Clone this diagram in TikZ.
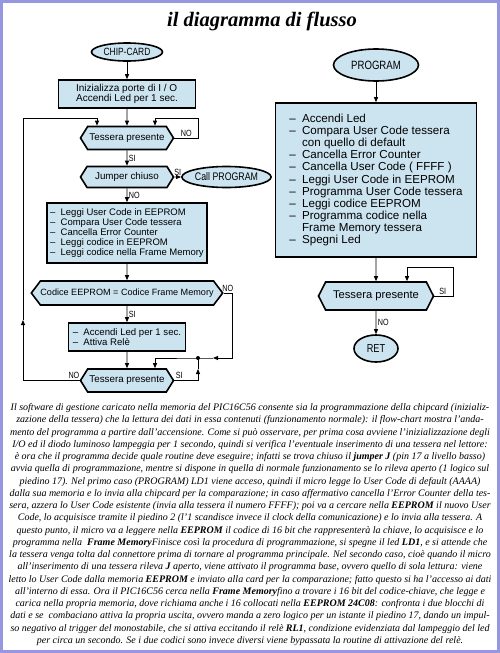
\documentclass[tikz,border=0pt]{standalone}
\usepackage{fontspec}
\setmainfont{Liberation Serif}
\newfontfamily\cadfont{Liberation Sans}
\newfontfamily\cadstretto[FakeStretch=0.8]{Liberation Sans}
\usetikzlibrary{arrows.meta,shapes.geometric,shapes.symbols}
\definecolor{celeste}{RGB}{204,228,240}
\definecolor{cornice}{RGB}{150,150,225}
\newcommand{\voce}{\makebox[1.1em][l]{–}}

\begin{document}
\begin{tikzpicture}[x=1pt, y=-1pt,
    scatola/.style={draw, line width=1.6pt, fill=celeste, inner sep=0pt, align=left},
    esagono/.style={signal, signal to=east and west, signal pointer angle=116, draw, line width=1.6pt, fill=celeste, inner sep=0pt},
    ovale/.style={ellipse, draw, line width=1.6pt, fill=celeste, inner sep=0pt},
    linea/.style={line width=0.8pt},
    freccia/.style={line width=0.8pt, -{Triangle[length=5pt,width=4pt]}},
    etichetta/.style={font=\cadstretto\fontsize{9}{10}\selectfont, inner sep=1.5pt},
    testo/.style={anchor=base, inner sep=0pt, font=\itshape\fontsize{10}{12}\selectfont}]
  \useasboundingbox (0,0) rectangle (500,653);
  \draw[cornice, line width=3pt] (1.5,1.5) rectangle (498.5,651.5);
  \node[anchor=base west, inner sep=0pt, font=\bfseries\itshape\fontsize{20.5}{23}\selectfont] (titolo) at (167,27) {il diagramma di flusso};
  % diagramma CHIP-CARD
  \node[ovale, minimum width=71, minimum height=18, font=\cadstretto\fontsize{10.5}{12}\selectfont] (chip) at (127,52) {CHIP-CARD};
  \node[scatola, minimum width=137, minimum height=28, font=\cadfont\fontsize{10}{10.5}\selectfont] (init) at (127,94) {Inizializza porte di I / O\\Accendi Led per 1 sec.};
  \node[esagono, minimum width=93, minimum height=23, font=\cadfont\fontsize{9.8}{12}\selectfont] (tess1) at (127,138) {Tessera presente};
  \node[esagono, minimum width=93, minimum height=21, font=\cadfont\fontsize{9.8}{12}\selectfont] (jump) at (127,177) {Jumper chiuso};
  \node[ovale, minimum width=69, minimum height=21, font=\cadstretto\fontsize{11}{12}\selectfont] (call) at (226.5,177) {Call PROGRAM};
  \node[scatola, minimum width=160, minimum height=60, font=\cadfont\fontsize{9.5}{10.2}\selectfont] (leggi) at (127,233) {\voce Leggi User Code in EEPROM\\\voce Compara User Code tessera\\\voce Cancella Error Counter\\\voce Leggi codice in EEPROM\\\voce Leggi codice nella Frame Memory};
  \node[esagono, signal pointer angle=106, minimum width=189, minimum height=24, font=\cadfont\fontsize{9.1}{12}\selectfont] (cmp) at (127,293) {Codice EEPROM = Codice Frame Memory};
  \node[scatola, minimum width=117, minimum height=28, font=\cadfont\fontsize{9.6}{10}\selectfont] (led) at (127,337) {\voce Accendi Led per 1 sec.\\\voce Attiva Relè};
  \node[esagono, minimum width=93, minimum height=23, font=\cadfont\fontsize{9.8}{12}\selectfont] (tess2) at (127,380.5) {Tessera presente};
  % diagramma PROGRAM
  \node[ovale, minimum width=85, minimum height=32, font=\cadstretto\fontsize{12}{14}\selectfont] (prog) at (376,65) {PROGRAM};
  \node[scatola, minimum width=201, minimum height=154, font=\cadfont\fontsize{11.6}{12.1}\selectfont] (passi) at (376,180) {\voce Accendi Led\\\voce Compara User Code tessera\\\hspace*{1.1em}con quello di default\\\voce Cancella Error Counter\\\voce Cancella User Code ( FFFF )\\\voce Leggi User Code in EEPROM\\\voce Programma User Code tessera\\\voce Leggi codice EEPROM\\\voce Programma codice nella\\\hspace*{1.1em}Frame Memory tessera\\\voce Spegni Led};
  \node[esagono, signal pointer angle=126, minimum width=115, minimum height=28, font=\cadfont\fontsize{11.2}{13}\selectfont] (tess3) at (376,296) {Tessera presente};
  \node[ovale, minimum width=44, minimum height=27, font=\cadstretto\fontsize{11.5}{13}\selectfont] (ret) at (376,348.5) {RET};
  % punti dei rami
  \coordinate (a1) at (198,138);
  \coordinate (a2) at (198,118);
  \coordinate (a3) at (155,118);
  \coordinate (b1) at (23,380.5);
  \coordinate (b2) at (23,320);
  \coordinate (b3) at (23,118);
  \coordinate (b4) at (97,118);
  \coordinate (c1) at (232,293);
  \coordinate (c2) at (232,358);
  \coordinate (c3) at (213,358);
  \coordinate (nodo) at (198,358);
  \coordinate (c4) at (155,358);
  \coordinate (d1) at (198,380.5);
  \coordinate (d2) at (198,369);
  \coordinate (e1) at (453,296);
  \coordinate (e2) at (453,267);
  \coordinate (e3) at (407,267);
  % frecce CHIP-CARD
  \draw[freccia] (chip) -- (init);
  \draw[freccia] (init) -- (tess1);
  \draw[freccia] (tess1) -- node[etichetta, right] {SI} (jump);
  \draw[freccia] (jump) -- node[etichetta, above] {SI} (call);
  \draw[freccia] (jump) -- node[etichetta, right] {NO} (leggi);
  \draw[freccia] (leggi) -- (cmp);
  \draw[freccia] (cmp) -- node[etichetta, right] {SI} (led);
  \draw[freccia] (led) -- (tess2);
  \draw[linea] (tess1.east) -- node[etichetta, above] {NO} (a1) -- (a2) -- (a3);
  \draw[freccia] (a3) -- (a3 |- tess1.north);
  \draw[freccia] (tess2.west) -- node[etichetta, above, pos=0.1] {NO} (b1) -- (b2);
  \draw[linea] (b2) -- (b3) -- (b4);
  \draw[freccia] (b4) -- (b4 |- tess1.north);
  \draw[freccia] (cmp.east) -- node[etichetta, above] {NO} (c1) -- (c2) -- (c3);
  \draw[linea] (c3) -- (nodo) -- (c4);
  \draw[freccia] (c4) -- (c4 |- tess2.north);
  \draw[freccia] (tess2.east) -- node[etichetta, above, pos=0.2] {SI} (d1) -- (d2);
  \draw[linea] (d2) -- (nodo);
  \fill (nodo) circle[radius=2pt];
  % frecce PROGRAM
  \draw[freccia] (prog) -- (passi);
  \draw[freccia] (passi) -- (tess3);
  \draw[linea] (tess3.east) -- node[etichetta, above, pos=0.45] {SI} (e1) -- (e2) -- (e3);
  \draw[freccia] (e3) -- (e3 |- tess3.north);
  \draw[freccia] (tess3) -- node[etichetta, right] {NO} (ret);
  % testo
  \node[testo] (t1) at (250,410.5) {Il software di gestione caricato nella memoria del PIC16C56 consente sia la programmazione della chipcard (inizializ-};
  \node[testo] (t2) at (250,422.8) {zazione della tessera) che la lettura dei dati in essa contenuti (funzionamento normale): il flow-chart mostra l'anda-};
  \node[testo] (t3) at (250,435.0) {mento del programma a partire dall'accensione. Come si può osservare, per prima cosa avviene l'inizializzazione degli};
  \node[testo] (t4) at (250,447.3) {I/O ed il diodo luminoso lampeggia per 1 secondo, quindi si verifica l'eventuale inserimento di una tessera nel lettore:};
  \node[testo] (t5) at (250,459.5) {è ora che il programma decide quale routine deve eseguire; infatti se trova chiuso il \textbf{jumper J} (pin 17 a livello basso)};
  \node[testo] (t6) at (250,471.8) {avvia quella di programmazione, mentre si dispone in quella di normale funzionamento se lo rileva aperto (1 logico sul};
  \node[testo] (t7) at (250,484.1) {piedino 17). Nel primo caso (PROGRAM) LD1 viene acceso, quindi il micro legge lo User Code di default (AAAA)};
  \node[testo] (t8) at (250,496.3) {dalla sua memoria e lo invia alla chipcard per la comparazione; in caso affermativo cancella l'Error Counter della tes-};
  \node[testo] (t9) at (250,508.6) {sera, azzera lo User Code esistente (invia alla tessera il numero FFFF); poi va a cercare nella \textbf{EEPROM} il nuovo User};
  \node[testo] (t10) at (250,520.8) {Code, lo acquisisce tramite il piedino 2 (l'1 scandisce invece il clock della comunicazione) e lo invia alla tessera. A};
  \node[testo] (t11) at (250,533.1) {questo punto, il micro va a leggere nella \textbf{EEPROM} il codice di 16 bit che rappresenterà la chiave, lo acquisisce e lo};
  \node[testo] (t12) at (250,545.4) {programma nella \ \textbf{Frame Memory}Finisce così la procedura di programmazione, si spegne il led \textbf{LD1}, e si attende che};
  \node[testo] (t13) at (250,557.6) {la tessera venga tolta dal connettore prima di tornare al programma principale. Nel secondo caso, cioè quando il micro};
  \node[testo] (t14) at (250,569.9) {all'inserimento di una tessera rileva \textbf{J} aperto, viene attivato il programma base, ovvero quello di sola lettura: viene};
  \node[testo] (t15) at (250,582.1) {letto lo User Code dalla memoria \textbf{EEPROM} e inviato alla card per la comparazione; fatto questo si ha l'accesso ai dati};
  \node[testo] (t16) at (250,594.4) {all'interno di essa. Ora il PIC16C56 cerca nella \textbf{Frame Memory}fino a trovare i 16 bit del codice-chiave, che legge e};
  \node[testo] (t17) at (250,606.7) {carica nella propria memoria, dove richiama anche i 16 collocati nella \textbf{EEPROM 24C08}: confronta i due blocchi di};
  \node[testo] (t18) at (250,618.9) {dati e se \ combaciano attiva la propria uscita, ovvero manda a zero logico per un istante il piedino 17, dando un impul-};
  \node[testo] (t19) at (250,631.2) {so negativo al trigger del monostabile, che si attiva eccitando il relè \textbf{RL1}, condizione evidenziata dal lampeggio del led};
  \node[testo] (t20) at (250,643.4) {per circa un secondo. Se i due codici sono invece diversi viene bypassata la routine di attivazione del relè.};
\end{tikzpicture}
\end{document}
